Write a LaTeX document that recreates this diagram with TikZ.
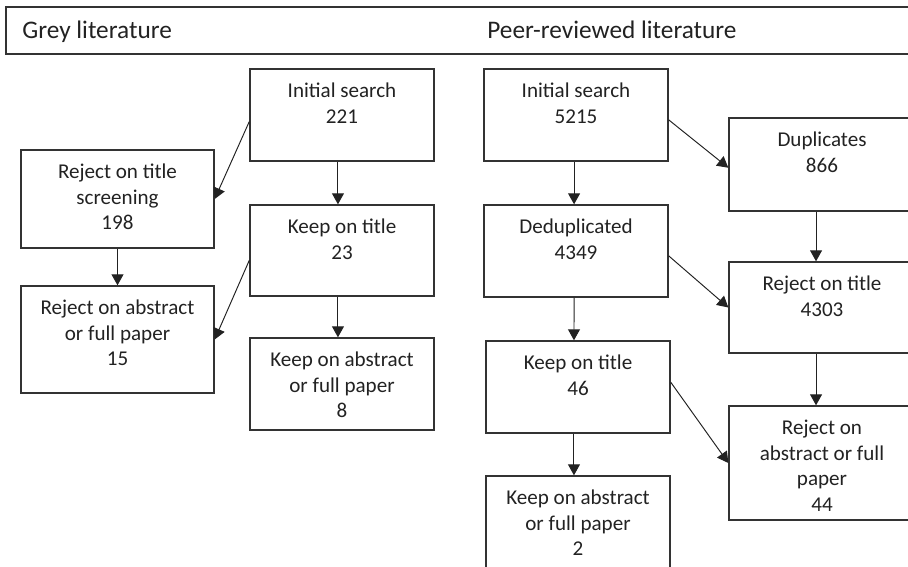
\documentclass[tikz,border=0pt]{standalone}
\usepackage{fontspec}
\setmainfont{Carlito}
\usepackage{tikz}
\usepackage{xcolor}
\usetikzlibrary{arrows.meta}
\definecolor{ink}    {HTML}{222222}
\definecolor{edge}   {HTML}{333333}
\tikzset{
  box/.style 2 args={draw=edge, line width=0.8pt, inner sep=0pt, text=ink,
                     font=\fontsize{12}{14.5}\selectfont,
                     execute at begin node={\begin{minipage}[c][#1][t]{#2}\centering\rule{0pt}{16.4pt}},
                     execute at end node={\end{minipage}}},
  hdrbox/.style    ={draw=edge, line width=0.8pt, inner sep=0pt,
                     minimum width=18.28cm, minimum height=0.94cm},
  hdrtext/.style   ={font=\fontsize{14.4}{17}\selectfont, text=ink,
                     inner sep=0pt, anchor=base west},
  arr/.style       ={-{Triangle[length=0.22cm,width=0.24cm]}, line width=0.55pt,
                     color=ink},
}
\begin{document}
\begin{tikzpicture}[x=0.02cm,y=-0.02cm]
  \useasboundingbox (0,0) rectangle (908,567);

  % header band
  \node[hdrbox] (hdr) at (463,30.5) {};
  \node[hdrtext] (greyhd) at (22,39) {Grey literature};
  \node[hdrtext] (peerhd) at (487,39) {Peer-reviewed literature};

  % grey literature
  \node[box={1.84cm}{3.68cm}] (gi)  at (342,115)   {Initial search\\221};
  \node[box={1.96cm}{3.86cm}] (grt) at (117.5,199) {Reject on title\\screening\\198};
  \node[box={1.82cm}{3.68cm}] (gkt) at (342,250.5) {Keep on title\\23};
  \node[box={2.14cm}{3.86cm}] (gra) at (117.5,339.5) {Reject on abstract\\or full paper\\15};
  \node[box={1.84cm}{3.68cm}] (gka) at (342,384)   {Keep on abstract\\or full paper\\8};

  % peer-reviewed literature
  \node[box={1.84cm}{3.68cm}] (pi)  at (576,115)   {Initial search\\5215};
  \node[box={1.86cm}{3.72cm}] (pd)  at (822,164.5) {Duplicates\\866};
  \node[box={1.84cm}{3.68cm}] (pdd) at (576,251)   {Deduplicated\\4349};
  \node[box={1.82cm}{3.72cm}] (prt) at (822,307.5) {Reject on title\\4303};
  \node[box={1.84cm}{3.68cm}] (pkt) at (578,387)   {Keep on title\\46};
  \node[box={2.28cm}{3.72cm}] (pra) at (822,463)   {Reject on\\abstract or full\\paper\\44};
  \node[box={1.84cm}{3.68cm}] (pka) at (578,522)   {Keep on abstract\\or full paper\\2};

  \draw[arr] (gi.184) -- (grt.east);
  \draw[arr] ([xshift=-2.3pt]gi.south) -- ([xshift=-2.3pt]gkt.north);
  \draw[arr] (grt) -- (gra);
  \draw[arr] (gkt.186) -- (gra.east);
  \draw[arr] ([xshift=-2.3pt]gkt.south) -- ([xshift=-2.3pt]gka.north);

  \draw[arr] (pi.357) -- (pd.182);
  \draw[arr] ([xshift=-1.1pt]pi.south) -- ([xshift=-1.1pt]pdd.north);
  \draw[arr] ([xshift=-3.4pt]pd.south) -- ([xshift=-3.4pt]prt.north);
  \draw[arr] (pdd.357) -- (prt.west);
  \draw[arr] ([xshift=-1.1pt]pdd.south) -- ([xshift=-2.3pt]pkt.north);
  \draw[arr] ([xshift=-3.4pt]prt.south) -- ([xshift=-3.4pt]pra.north);
  \draw[arr] (pkt.3) -- (pra.west);
  \draw[arr] ([xshift=-2.3pt]pkt.south) -- ([xshift=-2.3pt]pka.north);
\end{tikzpicture}
\end{document}
